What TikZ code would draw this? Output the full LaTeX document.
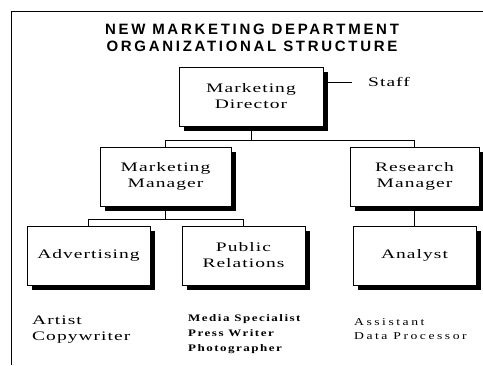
\documentclass[tikz,border=0pt]{standalone}
\usepackage{fontspec}
\newfontfamily\boxfont[FakeStretch=1.5, LetterSpace=8]{Liberation Serif}
\newfontfamily\listfont[FakeStretch=1.3, LetterSpace=12]{Liberation Serif}
\newfontfamily\titlefont[LetterSpace=18]{Liberation Sans}
\usepackage{tikz}
\usetikzlibrary{positioning,shadows}

\begin{document}
\begin{tikzpicture}[x=1pt,y=-1pt,
    unit/.style={draw, fill=white, line width=0.8pt, minimum height=59pt, align=center,
      inner sep=0pt, font=\boxfont\fontsize{13}{16}\selectfont,
      drop shadow={shadow xshift=5pt, shadow yshift=-5pt, fill=black, opacity=1}},
    members/.style={anchor=west, align=left, inner sep=0pt}]
        \useasboundingbox (0,0) rectangle (483,365);
        \draw[line width=0.8pt] (11,365) -- (11,11) -- (483,11);
        \node[font=\titlefont\bfseries\fontsize{15}{17}\selectfont, align=center] (title) at (252,38)
          {NEW MARKETING DEPARTMENT\\ORGANIZATIONAL STRUCTURE};
        \node[unit, minimum width=144pt] (dir) at (251,96.5) {Marketing\\Director};
        \node[unit, minimum width=131pt] (mm) at (165.5,176.5) {Marketing\\Manager};
        \node[unit, minimum width=129pt] (rm) at (414.5,176.5) {Research\\Manager};
        \node[unit, minimum width=123pt] (adv) at (88.5,255.5) {Advertising};
        \node[unit, minimum width=123pt] (pr) at (243.5,255.5) {Public\\Relations};
        \node[unit, minimum width=123pt] (ana) at (414.5,255.5) {Analyst};
        \node[anchor=west, inner sep=0pt, font=\boxfont\fontsize{13}{16}\selectfont] (staff) at (368,82) {Staff};
        \coordinate (stafftip) at (352,82);
        \draw[line width=0.8pt] (stafftip -| dir.east) -- (stafftip);
        % reporting lines
        \begin{scope}[line width=0.8pt]
          \draw (dir.south) -- ++(0,14) coordinate (split1) -| (mm.north);
          \draw (split1) -| (rm.north);
          \draw (mm.south) -- ++(0,13) coordinate (split2) -| (adv.north);
          \draw (split2) -| (pr.north);
          \draw (rm.south) -- (ana.north);
        \end{scope}
        \node[members, font=\boxfont\fontsize{13}{16}\selectfont] (advstaff) at (32,330) {Artist\\Copywriter};
        \node[members, font=\listfont\bfseries\addfontfeature{LetterSpace=15}\fontsize{10}{15}\selectfont] (prstaff) at (188,334) {Media Specialist\\Press Writer\\Photographer};
        \node[members, font=\listfont\addfontfeature{LetterSpace=24}\fontsize{10.5}{14}\selectfont] (anastaff) at (354,329) {Assistant\\Data Processor};
      \end{tikzpicture}
\end{document}
